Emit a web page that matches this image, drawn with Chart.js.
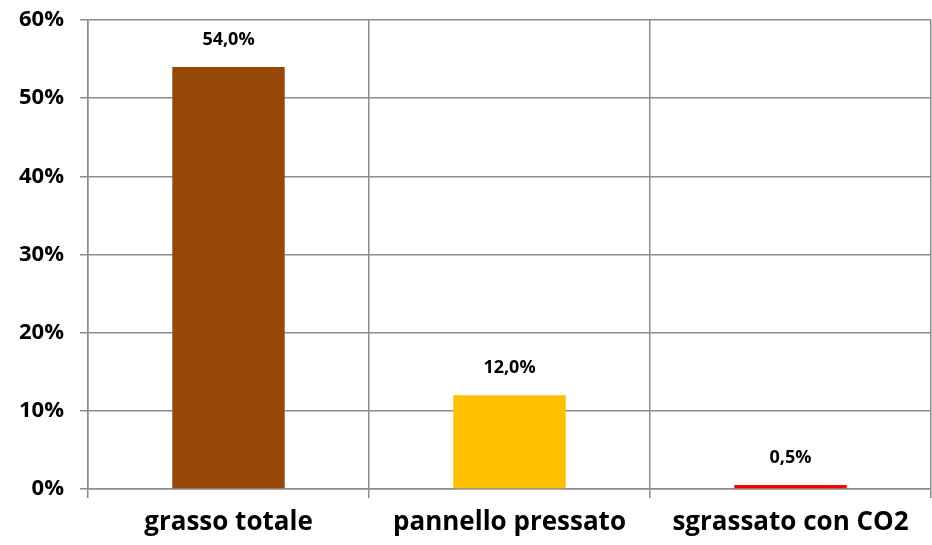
<!DOCTYPE html>
<html>
<head>
<meta charset="utf-8">
<script src="https://cdn.jsdelivr.net/npm/chart.js@4"></script>
<style>
  html, body { margin: 0; padding: 0; background: #fff; }
  #wrap { width: 932px; height: 545px; }
</style>
</head>
<body>
<div id="wrap"><canvas id="fatChart" width="932" height="545"></canvas></div>
<script>
const categories = ['grasso totale', 'pannello pressato', 'sgrassato con CO2'];
const fatPercent = [54.0, 12.0, 0.5];
const barColors = ['#974807', '#FFC000', '#FF0000'];
const yTicks = [0, 10, 20, 30, 40, 50, 60];

const FONT = "'Open Sans', 'Liberation Sans', sans-serif";
const GRID = '#8c8c8c';

// value labels above each bar, e.g. "54,0%"
const valueLabels = {
    id: 'valueLabels',
    afterDatasetsDraw: (chart) => {
        const { ctx } = chart;
        const meta = chart.getDatasetMeta(0);
        ctx.save();
        ctx.font = 'bold 18px ' + FONT;
        ctx.fillStyle = '#000';
        ctx.textAlign = 'center';
        ctx.textBaseline = 'middle';
        meta.data.forEach((bar, i) => {
            const txt = fatPercent[i].toFixed(1).replace('.', ',') + '%';
            ctx.fillText(txt, bar.x, bar.y - 27);
        });
        ctx.restore();
    }
};

const ctx = document.getElementById('fatChart').getContext('2d');

new Chart(ctx, {
    type: 'bar',
    data: {
        labels: categories,
        datasets: [{
            data: fatPercent,
            backgroundColor: barColors,
            borderWidth: 0,
            categoryPercentage: 0.4,
            barPercentage: 1.0
        }]
    },
    options: {
        responsive: false,
        animation: false,
        layout: { padding: { top: 20, right: 1, left: 0, bottom: 0 } },
        scales: {
            x: {
                offset: true,
                afterFit: (scale) => {
                    scale.height = 56;
                    scale.paddingLeft = 0;
                    scale.paddingRight = 0;
                },
                grid: {
                    offset: true,
                    color: GRID,
                    lineWidth: 1.5,
                    tickLength: 9,
                    drawOnChartArea: true
                },
                border: { color: GRID, width: 1.5 },
                ticks: {
                    color: '#000',
                    padding: 9,
                    font: { family: FONT, size: 26, weight: 'bold' }
                }
            },
            y: {
                min: 0,
                max: 60,
                afterFit: (scale) => {
                    scale.width = 88;
                    scale.paddingTop = 0;
                    scale.paddingBottom = 0;
                },
                afterBuildTicks: (scale) => { scale.ticks = yTicks.map(v => ({ value: v })); },
                grid: {
                    color: GRID,
                    lineWidth: 1.5,
                    tickLength: 8
                },
                border: { color: GRID, width: 1.5 },
                ticks: {
                    color: '#000',
                    padding: 16,
                    font: { family: FONT, size: 22, weight: 'bold' },
                    callback: (v) => v + '%'
                }
            }
        },
        plugins: {
            legend: { display: false },
            tooltip: { enabled: false }
        }
    },
    plugins: [valueLabels]
});
</script>
</body>
</html>
